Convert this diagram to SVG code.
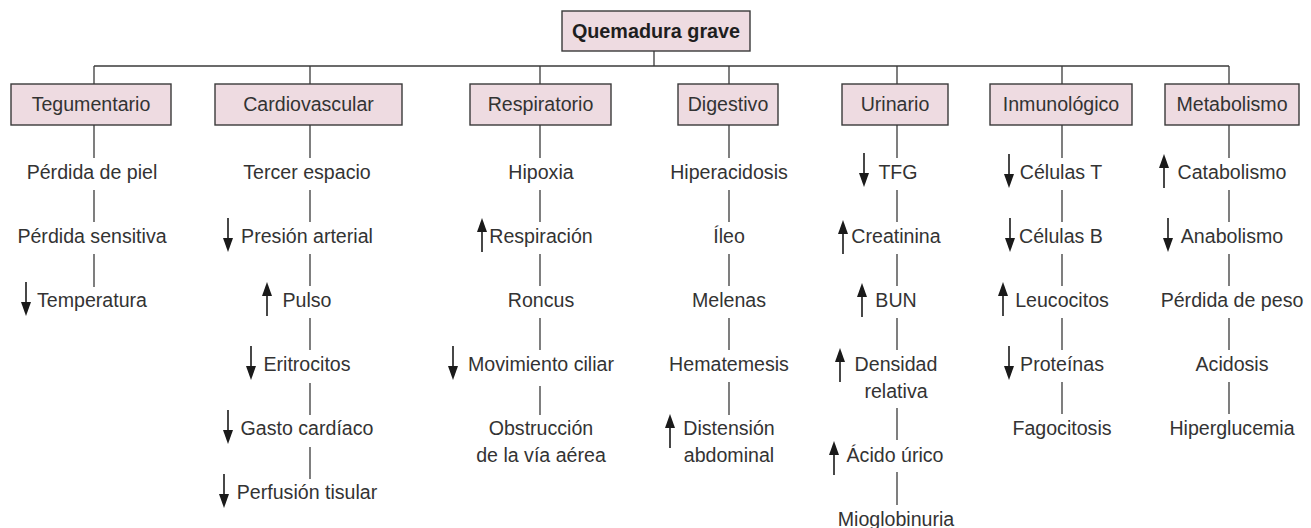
<svg xmlns="http://www.w3.org/2000/svg" xmlns:xlink="http://www.w3.org/1999/xlink" width="1311" height="528" viewBox="0 0 1311 528">
<style>
text{font-family:"Liberation Sans",Arial,sans-serif;font-size:19.6px;fill:#333333;text-anchor:middle}
.t{font-weight:bold;fill:#1e1e1e;font-size:19.8px}
.box{fill:#eedbe1;stroke:#3a3a3a;stroke-width:1.4}
.c line{stroke:#3a3a3a;stroke-width:1.3}
.ar line{stroke:#1a1a1a;stroke-width:1.6}
.ar path{fill:#1a1a1a}
</style>
<defs>
<g id="dn" class="ar"><line x1="0" y1="-17" x2="0" y2="4"/><path d="M-5,3 L5,3 L0,17 Z"/></g>
<g id="up" class="ar"><line x1="0" y1="17" x2="0" y2="-4"/><path d="M-5,-3 L5,-3 L0,-17 Z"/></g>
</defs>
<rect width="1311" height="528" fill="#ffffff"/>
<g id="connectors" class="c">
<line x1="654" y1="51" x2="654" y2="66"/>
<line x1="94" y1="66" x2="1229" y2="66"/>
<line x1="94" y1="66" x2="94" y2="84"/>
<line x1="310" y1="66" x2="310" y2="84"/>
<line x1="540" y1="66" x2="540" y2="84"/>
<line x1="729" y1="66" x2="729" y2="84"/>
<line x1="897" y1="66" x2="897" y2="84"/>
<line x1="1062" y1="66" x2="1062" y2="84"/>
<line x1="1229" y1="66" x2="1229" y2="84"/>
<line x1="94" y1="125" x2="94" y2="158"/>
<line x1="94" y1="190" x2="94" y2="222"/>
<line x1="94" y1="254" x2="94" y2="287"/>
<line x1="310" y1="125" x2="310" y2="158"/>
<line x1="310" y1="190" x2="310" y2="222"/>
<line x1="310" y1="254" x2="310" y2="286"/>
<line x1="310" y1="318" x2="310" y2="350"/>
<line x1="310" y1="383" x2="310" y2="415"/>
<line x1="310" y1="447" x2="310" y2="479"/>
<line x1="540" y1="125" x2="540" y2="158"/>
<line x1="540" y1="190" x2="540" y2="222"/>
<line x1="540" y1="254" x2="540" y2="286"/>
<line x1="540" y1="318" x2="540" y2="350"/>
<line x1="540" y1="386" x2="540" y2="415"/>
<line x1="729" y1="125" x2="729" y2="158"/>
<line x1="729" y1="190" x2="729" y2="222"/>
<line x1="729" y1="254" x2="729" y2="286"/>
<line x1="729" y1="318" x2="729" y2="350"/>
<line x1="729" y1="382" x2="729" y2="415"/>
<line x1="897" y1="125" x2="897" y2="158"/>
<line x1="897" y1="190" x2="897" y2="222"/>
<line x1="897" y1="254" x2="897" y2="286"/>
<line x1="897" y1="318" x2="897" y2="350"/>
<line x1="897" y1="408" x2="897" y2="440"/>
<line x1="897" y1="472" x2="897" y2="505"/>
<line x1="1062" y1="125" x2="1062" y2="158"/>
<line x1="1062" y1="190" x2="1062" y2="222"/>
<line x1="1062" y1="254" x2="1062" y2="286"/>
<line x1="1062" y1="318" x2="1062" y2="350"/>
<line x1="1062" y1="382" x2="1062" y2="414"/>
<line x1="1229" y1="125" x2="1229" y2="158"/>
<line x1="1229" y1="190" x2="1229" y2="222"/>
<line x1="1229" y1="254" x2="1229" y2="286"/>
<line x1="1229" y1="318" x2="1229" y2="350"/>
<line x1="1229" y1="382" x2="1229" y2="414"/>
</g>
<g id="root"><rect class="box" x="562" y="11" width="188" height="40"/><text class="t" x="656" y="38">Quemadura grave</text></g>
<g id="cat-tegumentario"><rect class="box" x="11" y="84" width="160" height="41"/><text x="91" y="111">Tegumentario</text></g>
<g id="cat-cardiovascular"><rect class="box" x="215" y="84" width="187" height="41"/><text x="308.5" y="111">Cardiovascular</text></g>
<g id="cat-respiratorio"><rect class="box" x="470" y="84" width="141" height="41"/><text x="540.5" y="111">Respiratorio</text></g>
<g id="cat-digestivo"><rect class="box" x="678" y="84" width="100" height="41"/><text x="728" y="111">Digestivo</text></g>
<g id="cat-urinario"><rect class="box" x="842" y="84" width="106" height="41"/><text x="895" y="111">Urinario</text></g>
<g id="cat-inmunologico"><rect class="box" x="990" y="84" width="142" height="41"/><text x="1061" y="111">Inmunológico</text></g>
<g id="cat-metabolismo"><rect class="box" x="1165" y="84" width="134" height="41"/><text x="1232" y="111">Metabolismo</text></g>

<g id="teg-1"><text x="92" y="179">Pérdida de piel</text></g>
<g id="teg-2"><text x="92" y="243">Pérdida sensitiva</text></g>
<g id="teg-3"><use xlink:href="#dn" x="26" y="299"/><text x="92" y="307">Temperatura</text></g>

<g id="car-1"><text x="307" y="179">Tercer espacio</text></g>
<g id="car-2"><use xlink:href="#dn" x="228" y="235"/><text x="307" y="243">Presión arterial</text></g>
<g id="car-3"><use xlink:href="#up" x="267" y="299"/><text x="307" y="307">Pulso</text></g>
<g id="car-4"><use xlink:href="#dn" x="251" y="363"/><text x="307" y="371">Eritrocitos</text></g>
<g id="car-5"><use xlink:href="#dn" x="228" y="427"/><text x="307" y="435">Gasto cardíaco</text></g>
<g id="car-6"><use xlink:href="#dn" x="224" y="491"/><text x="307" y="499">Perfusión tisular</text></g>

<g id="res-1"><text x="541" y="179">Hipoxia</text></g>
<g id="res-2"><use xlink:href="#up" x="482" y="235"/><text x="541" y="243">Respiración</text></g>
<g id="res-3"><text x="541" y="307">Roncus</text></g>
<g id="res-4"><use xlink:href="#dn" x="453" y="363"/><text x="541" y="371">Movimiento ciliar</text></g>
<g id="res-5"><text x="541" y="435">Obstrucción</text><text x="541" y="462">de la vía aérea</text></g>

<g id="dig-1"><text x="729" y="179">Hiperacidosis</text></g>
<g id="dig-2"><text x="729" y="243">Íleo</text></g>
<g id="dig-3"><text x="729" y="307">Melenas</text></g>
<g id="dig-4"><text x="729" y="371">Hematemesis</text></g>
<g id="dig-5"><use xlink:href="#up" x="670" y="431"/><text x="729" y="435">Distensión</text><text x="729" y="462">abdominal</text></g>

<g id="uri-1"><use xlink:href="#dn" x="864" y="170"/><text x="898" y="179">TFG</text></g>
<g id="uri-2"><use xlink:href="#up" x="843" y="237"/><text x="896" y="243">Creatinina</text></g>
<g id="uri-3"><use xlink:href="#up" x="862" y="300"/><text x="896" y="307">BUN</text></g>
<g id="uri-4"><use xlink:href="#up" x="840" y="365"/><text x="896" y="371">Densidad</text><text x="896" y="398">relativa</text></g>
<g id="uri-5"><use xlink:href="#up" x="834" y="458"/><text x="895" y="462">Ácido úrico</text></g>
<g id="uri-6"><text x="896" y="526">Mioglobinuria</text></g>

<g id="inm-1"><use xlink:href="#dn" x="1009" y="171"/><text x="1061" y="179">Células T</text></g>
<g id="inm-2"><use xlink:href="#dn" x="1010" y="235"/><text x="1061" y="243">Células B</text></g>
<g id="inm-3"><use xlink:href="#up" x="1003" y="299"/><text x="1062" y="307">Leucocitos</text></g>
<g id="inm-4"><use xlink:href="#dn" x="1009" y="363"/><text x="1062" y="371">Proteínas</text></g>
<g id="inm-5"><text x="1062" y="435">Fagocitosis</text></g>

<g id="met-1"><use xlink:href="#up" x="1164" y="171"/><text x="1232" y="179">Catabolismo</text></g>
<g id="met-2"><use xlink:href="#dn" x="1168" y="235"/><text x="1232" y="243">Anabolismo</text></g>
<g id="met-3"><text x="1232" y="307">Pérdida de peso</text></g>
<g id="met-4"><text x="1232" y="371">Acidosis</text></g>
<g id="met-5"><text x="1232" y="435">Hiperglucemia</text></g>
</svg>
